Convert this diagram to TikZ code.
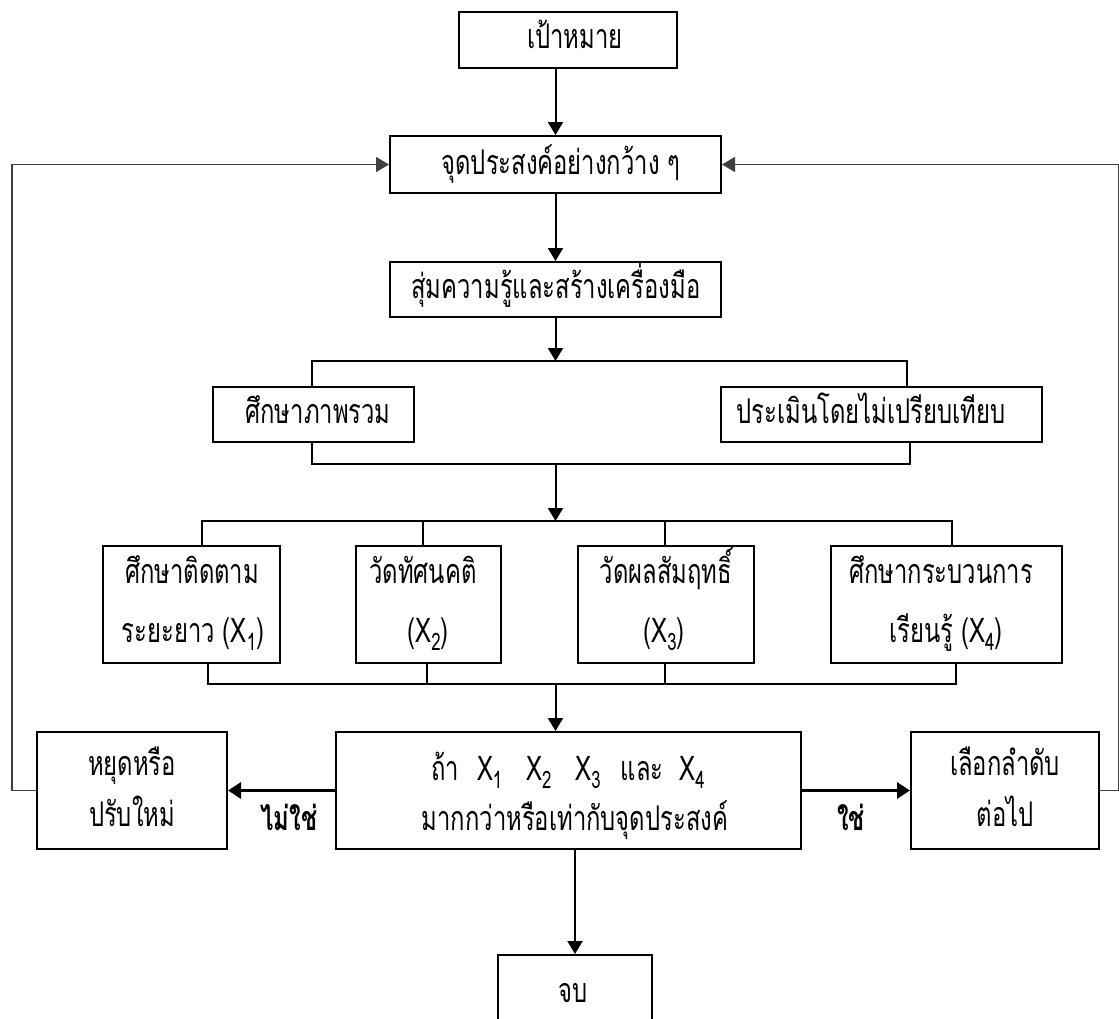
\documentclass[tikz,border=0pt]{standalone}
\usepackage{fontspec}
\newfontfamily\thai[Script=Thai,FakeStretch=0.7]{Loma}
\usetikzlibrary{arrows.meta,fit}
% lowered index digit after X
\newcommand\idx[1]{\raisebox{-0.5ex}{\fontsize{12}{12}\selectfont #1}}

\begin{document}
\begin{tikzpicture}[x=0.5pt,y=-0.5pt,
  font=\thai\fontsize{17}{25}\selectfont,
  box/.style={draw,line width=1pt,inner sep=0pt},
  txt/.style={inner sep=0pt,anchor=base},
  ln/.style={line width=0.75pt},
  arr/.style={line width=1pt,-{Triangle[length=6.5pt,width=7.5pt]}},
  harr/.style={line width=1.6pt,-{Triangle[length=6.5pt,width=8pt]}},
  fb/.style={line width=0.75pt,black!75,-{Triangle[length=6.5pt,width=7.5pt]}},
  lbl/.style={txt,font=\thai\bfseries\fontsize{17}{25}\selectfont}]
\useasboundingbox (0,0) rectangle (1119,1018);

% boxes of the flow
\node[box,fit={(459,12)(677,68)}] (g) {};
\node[box,fit={(390,136)(721,193)}] (o) {};
\node[box,fit={(390,262)(721,317)}] (k) {};
\node[box,fit={(213,387)(414,442)}] (a) {};
\node[box,fit={(721,387)(1042,442)}] (b) {};
\node[box,fit={(103,546)(280,663)}] (x1) {};
\node[box,fit={(356,546)(501,663)}] (x2) {};
\node[box,fit={(578,546)(754,663)}] (x3) {};
\node[box,fit={(831,546)(1062,663)}] (x4) {};
\node[box,fit={(336,732)(801,849)}] (m) {};
\node[box,fit={(37,732)(227,849)}] (s) {};
\node[box,fit={(911,732)(1099,849)}] (n) {};
\node[box,fit={(498,955)(652,1040)}] (e) {};

% texts inside the boxes
\node[txt] (gt) at (575,48) {เป้าหมาย};
\node[txt] (ot) at (561,174) {จุดประสงค์อย่างกว้าง ๆ};
\node[txt] (kt) at (556,298) {สุ่มความรู้และสร้างเครื่องมือ};
\node[txt] (at) at (318,423) {ศึกษาภาพรวม};
\node[txt] (bt) at (871,423) {ประเมินโดยไม่เปรียบเทียบ};
\node[txt] (x1a) at (192,583) {ศึกษาติดตาม};
\node[txt] (x1b) at (193,642) {ระยะยาว (X\idx{1})};
\node[txt] (x2a) at (423,583) {วัดทัศนคติ};
\node[txt] (x2b) at (428,642) {(X\idx{2})};
\node[txt] (x3a) at (666,583) {วัดผลสัมฤทธิ์};
\node[txt] (x3b) at (664,642) {(X\idx{3})};
\node[txt] (x4a) at (941,583) {ศึกษากระบวนการ};
\node[txt] (x4b) at (946,642) {เรียนรู้ (X\idx{4})};
\node[txt] (ma) at (568,780) {ถ้า\hspace{9pt}X\idx{1}\hspace{12pt}X\idx{2}\hspace{12pt}X\idx{3}\hspace{10pt}และ\hspace{8pt}X\idx{4}};
\node[txt] (mb) at (575,830) {มากกว่าหรือเท่ากับจุดประสงค์};
\node[txt] (sa) at (132,775) {หยุดหรือ};
\node[txt] (sb) at (132,826) {ปรับใหม่};
\node[txt] (na) at (1005,775) {เลือกลำดับ};
\node[txt] (nb) at (1005,826) {ต่อไป};
\node[txt] (et) at (573,1002) {จบ};

% branch points
\coordinate (ja) at (312,361); \coordinate (jb) at (907,361);
\coordinate (ka) at (312,464); \coordinate (kb) at (910,464);
\coordinate (p1) at (202,521); \coordinate (p2) at (423,521);
\coordinate (p3) at (665,521); \coordinate (p4) at (952,521);
\coordinate (q1) at (208,684); \coordinate (q2) at (427,684);
\coordinate (q3) at (665,684); \coordinate (q4) at (956,684);
\coordinate (fbL) at (12,0); \coordinate (fbR) at (1119,0);

% main chain
\draw[arr] (g.south -| o.north) -- (o.north);
\draw[arr] (o.south) -- (k.north);
\draw[arr] (k.south) -- (k.south |- ja);
\draw[ln] (a.north -| ja) -- (ja) -- (jb) -- (b.north -| jb);
\draw[ln] (a.south -| ka) -- (ka) -- (kb) -- (b.south -| kb);
\draw[arr] (k.south |- ka) -- (k.south |- p1);
\draw[ln] (x1.north -| p1) -- (p1) -- (p4) -- (x4.north -| p4);
\draw[ln] (x2.north -| p2) -- (p2);
\draw[ln] (x3.north -| p3) -- (p3);
\draw[ln] (x1.south -| q1) -- (q1) -- (q4) -- (x4.south -| q4);
\draw[ln] (x2.south -| q2) -- (q2);
\draw[ln] (x3.south -| q3) -- (q3);
\draw[arr] (k.south |- q1) -- (k.south |- m.north);
\draw[arr] (e.north |- m.south) -- (e.north);

% decision branches
\draw[harr] (m.west) -- (s.east);
\draw[harr] (m.east) -- (n.west);
\node[lbl] (no) at (289,830) {ไม่ใช่};
\node[lbl] (yes) at (851,830) {ใช่};

% feedback loops
\draw[fb] (s.west) -- (s.west -| fbL) |- (o.west);
\draw[fb] (n.east) -- (n.east -| fbR) |- (o.east);
\end{tikzpicture}
\end{document}
